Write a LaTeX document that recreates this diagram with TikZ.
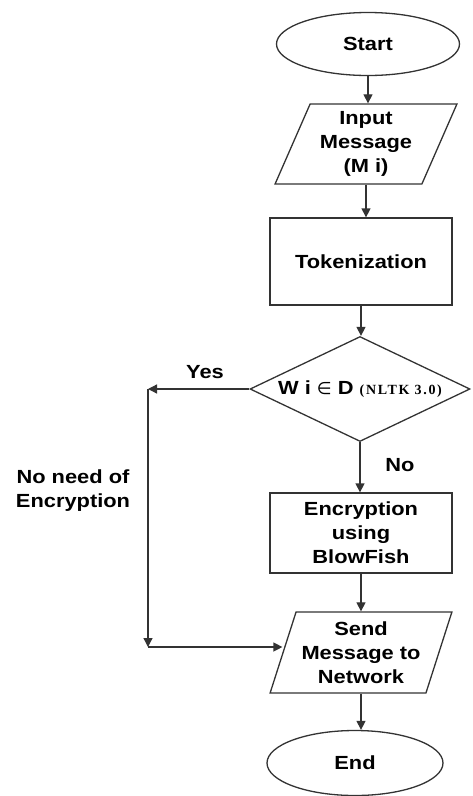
\documentclass[tikz,border=0pt]{standalone}
\usepackage{fontspec}
\setmainfont[FakeStretch=1.15]{Liberation Sans}
\newfontfamily\nltkfont[LetterSpace=12]{Liberation Serif}
\newfontfamily\symfont{DejaVu Sans}
\usetikzlibrary{shapes.geometric,arrows.meta}
\begin{document}
\begin{tikzpicture}[x=1pt,y=-1pt,
  every node/.style={font=\bfseries\fontsize{19}{24}\selectfont, align=center, text=black},
  line/.style={draw=black!80, line width=1.3pt},
  arr/.style={line, -{Triangle[length=9pt,width=9pt]}},
  term/.style={ellipse, line, inner sep=0pt},
  proc/.style={rectangle, line, inner sep=0pt},
  io/.style={trapezium, line, inner sep=0pt, trapezium stretches=true}]
\useasboundingbox (0,0) rectangle (472,796);
\node[term, minimum width=183pt, minimum height=63pt] (start) at (368,44) {Start};
\node[io, trapezium left angle=66, trapezium right angle=114, minimum width=182pt, minimum height=80pt] (inp) at (366,144) {Input\\Message\\(M i)};
\node[proc, minimum width=182pt, minimum height=87pt] (tok) at (361,261.5) {Tokenization};
\node[diamond, line, minimum width=220pt, minimum height=105pt, inner sep=0pt, aspect=2.1] (dec) at (360,389) {W i {\symfont\mdseries\fontsize{17}{17}\selectfont ∈} D {\nltkfont\fontsize{14}{14}\selectfont (NLTK 3.0)}};
\node[proc, minimum width=182pt, minimum height=80pt] (enc) at (361,533) {Encryption\\using\\BlowFish};
\node[io, trapezium left angle=69, trapezium right angle=111, minimum width=182pt, minimum height=81pt] (send) at (361,652.5) {Send\\Message to\\Network};
\node[term, minimum width=176pt, minimum height=65pt] (end) at (355,763) {End};
\coordinate (c1) at (148,389);
\coordinate (c2) at (148,647);
\node (yes) at (205,372) {Yes};
\node (no) at (400,465) {No};
\node (noneed) at (73,491) {No need of\\Encryption};
\draw[arr] (start.south) -- (start.south |- inp.north);
\draw[arr] (inp.south) -- (inp.south |- tok.north);
\draw[arr] (tok.south) -- (tok.south |- dec.north);
\draw[arr] (dec.south) -- (dec.south |- enc.north);
\draw[arr] (enc.south) -- (enc.south |- send.north);
\draw[arr] (send.south) -- (send.south |- end.north);
\draw[arr] (dec.west) -- (c1);
\draw[arr] (c1) -- (c2);
\draw[arr] (c2) -- (c2 -| send.west);
\end{tikzpicture}
\end{document}
